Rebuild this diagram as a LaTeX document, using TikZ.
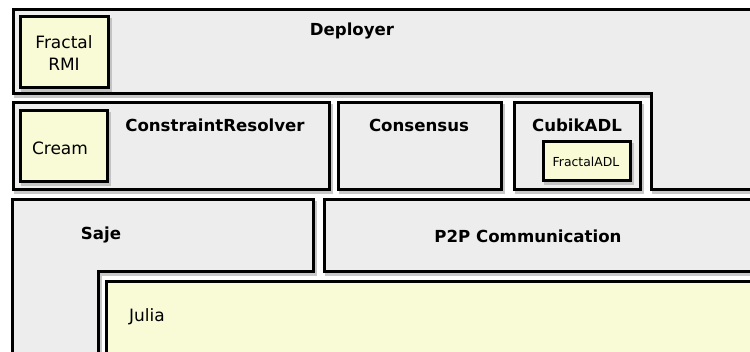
\documentclass[tikz,border=0pt]{standalone}
\usepackage{fontspec}
\setmainfont{DejaVu Sans}
\definecolor{boxgray}{RGB}{237,237,237}
\definecolor{boxyellow}{RGB}{249,251,214}
\tikzset{
  pane/.style={draw=black, line width=3pt, line join=miter},
  shade/.style={draw=black!30, line width=3pt, opacity=0.7},
  title/.style={font=\bfseries\fontsize{16.6}{20}\selectfont, inner sep=0pt},
  plain/.style={font=\fontsize{17}{22}\selectfont, inner sep=0pt, align=center},
  small/.style={font=\fontsize{12.4}{15}\selectfont, inner sep=0pt}
}
\newcommand{\panel}[2]{%
  \draw[shade, shift={(2.2,2.2)}] #2;
  \filldraw[pane, fill=#1] #2;}
\begin{document}
\begin{tikzpicture}[x=1pt, y=-1pt]
\useasboundingbox (0,0) rectangle (750,352);
\fill[white] (0,0) rectangle (750,352);
\begin{scope}
\clip (0,0) rectangle (750,352);
% Deployer
\panel{boxgray}{(13,10) -- (770,10) -- (770,190) -- (651,190) -- (651,94) -- (13,94) -- cycle}
\panel{boxyellow}{(20,17) rectangle (108,88)}
% ConstraintResolver
\panel{boxgray}{(13,103) rectangle (329,190)}
\panel{boxyellow}{(20,111) rectangle (107,182)}
% Consensus
\panel{boxgray}{(338,103) rectangle (501,190)}
% CubikADL
\panel{boxgray}{(514,103) rectangle (640,190)}
\panel{boxyellow}{(543,142) rectangle (630,181)}
% Saje
\panel{boxgray}{(12,200) -- (313,200) -- (313,272) -- (98,272) -- (98,370) -- (12,370) -- cycle}
% P2P
\panel{boxgray}{(324,200) rectangle (770,272)}
% Julia
\panel{boxyellow}{(106,282) rectangle (770,370)}
\end{scope}
% labels
\node[title] (deployer) at (352,31) {Deployer};
\node[plain] (rmi) at (64,53) {Fractal\\RMI};
\node[title] (cres) at (215,125) {ConstraintResolver};
\node[plain] (cream) at (60,148) {Cream};
\node[title] (cons) at (419,125) {Consensus};
\node[title] (cubik) at (577,125) {CubikADL};
\node[small] (fadl) at (586,162) {FractalADL};
\node[title] (saje) at (101,235) {Saje};
\node[title] (p2p) at (528,236) {P2P Communication};
\node[plain, anchor=west] (julia) at (129,317) {Julia};
\end{tikzpicture}
\end{document}
